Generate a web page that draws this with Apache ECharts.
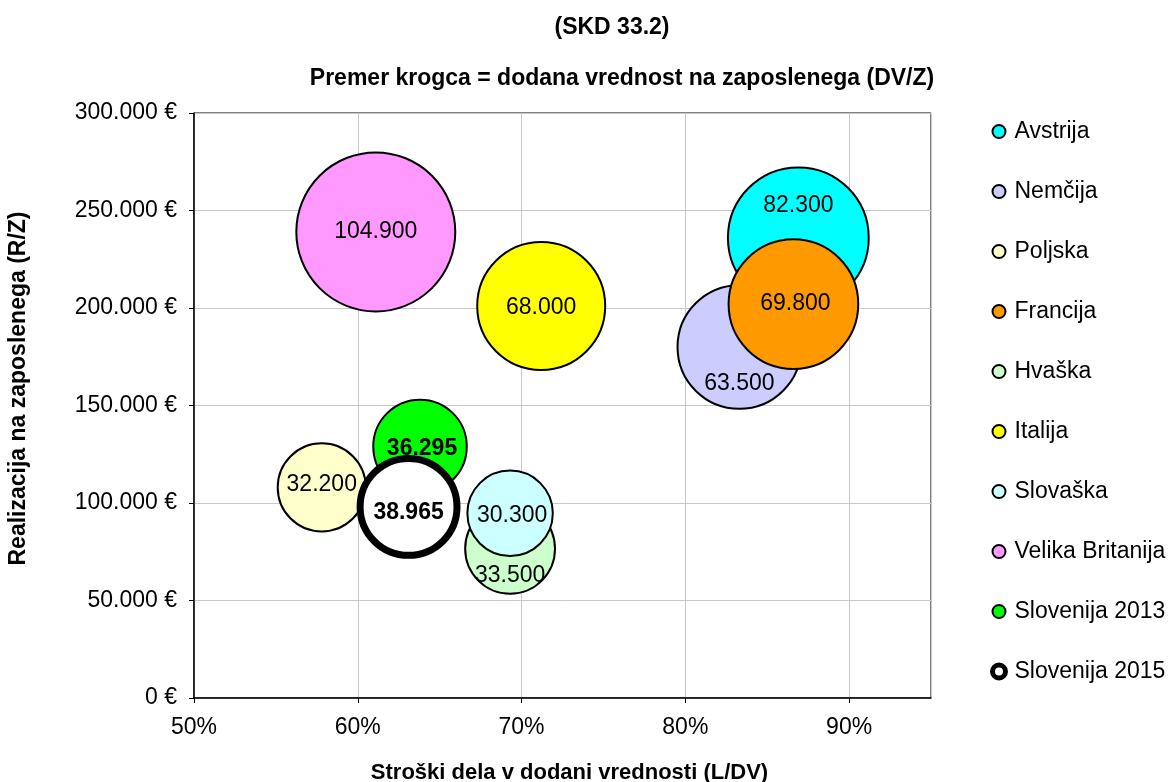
<!DOCTYPE html>
<html>
<head>
<meta charset="utf-8">
<script src="https://cdn.jsdelivr.net/npm/echarts@6/dist/echarts.min.js"></script>
<style>
html,body{margin:0;padding:0;background:#fff;}
#c{width:1168px;height:782px;}
</style>
</head>
<body>
<div id="c"></div>
<script>
// ---- data ----
var countries = ['Avstrija','Nemčija','Poljska','Francija','Hvaška','Italija','Slovaška','Velika Britanija','Slovenija 2013','Slovenija 2015'];
var laborShare = [0.869, 0.833, 0.578, 0.866, 0.693, 0.712, 0.693, 0.611, 0.638, 0.631];      // L/DV
var revenuePerEmp = [236000, 180000, 108000, 202000, 76500, 201000, 94700, 239000, 129000, 98000]; // R/Z
var valueAdded = [82300, 63500, 32200, 69800, 33500, 68000, 30300, 104900, 36295, 38965];       // DV/Z
var xTicks = [0.5, 0.6, 0.7, 0.8, 0.9];
var yTicks = [0, 50000, 100000, 150000, 200000, 250000, 300000];

// ---- styles ----
var colors = ['#00FFFF','#CCCCFF','#FFFFCC','#FF9900','#CCFFCC','#FFFF00','#CCFFFF','#FF99FF','#00FF00','#FFFFFF'];
var borderWidths = [2,2,2,2,2,2,2,2,2,7];
var labelOffsets = [[0,-32],[0,37],[0,-3],[2,0],[0,27],[0,2],[2,2],[0,0],[2,2],[0,6]];
var labelBold = [false,false,false,false,false,false,false,false,true,true];
var FONT = '"Liberation Sans", Arial, sans-serif';

function fmtThousands(v){
  return String(v).replace(/\B(?=(\d{3})+(?!\d))/g, '.');
}

var series = countries.map(function(name, i){
  return {
    name: name,
    type: 'scatter',
    data: [[laborShare[i], revenuePerEmp[i], valueAdded[i]]],
    symbol: 'circle',
    symbolSize: function(val){ return Math.sqrt(val[2]) * 0.4908; },
    itemStyle: { color: colors[i], borderColor: '#000', borderWidth: borderWidths[i], opacity: 1 },
    label: {
      show: true,
      position: 'inside',
      offset: labelOffsets[i],
      formatter: function(p){ return fmtThousands(p.value[2]); },
      color: '#000',
      fontFamily: FONT,
      fontSize: 23,
      fontWeight: labelBold[i] ? 'bold' : 'normal'
    },
    emphasis: { disabled: true },
    z: 2 + i
  };
});

var chart = echarts.init(document.getElementById('c'), null, {renderer: 'canvas'});
chart.setOption({
  animation: false,
  backgroundColor: '#fff',
  textStyle: { fontFamily: FONT },
  title: [
    { text: '(SKD 33.2)', left: 607, top: 11, textAlign: 'center',
      textStyle: { fontFamily: FONT, fontSize: 23, fontWeight: 'bold', color: '#000' } },
    { text: 'Premer krogca = dodana vrednost na zaposlenega (DV/Z)', left: 617, top: 62, textAlign: 'center',
      textStyle: { fontFamily: FONT, fontSize: 23, fontWeight: 'bold', color: '#000' } }
  ],
  legend: {
    orient: 'vertical',
    left: 985,
    top: 115,
    itemWidth: 13,
    itemHeight: 13,
    itemGap: 37,
    icon: 'circle',
    selectedMode: false,
    textStyle: { fontFamily: FONT, fontSize: 23, color: '#000', lineHeight: 22, padding: [0, 0, 0, 4] },
    data: countries.map(function(n, i){
      return { name: n, itemStyle: { color: colors[i], borderColor: '#000', borderWidth: i === 9 ? 5 : 2 } };
    })
  },
  grid: { left: 194, right: 237, top: 113, bottom: 84, show: true, borderColor: '#000', borderWidth: 1,
          containLabel: false, outerBoundsMode: 'none' },
  xAxis: {
    type: 'value',
    min: 0.5, max: 0.95, interval: 0.1,
    name: 'Stroški dela v dodani vrednosti (L/DV)',
    nameLocation: 'middle',
    nameGap: 64,
    nameTextStyle: { fontFamily: FONT, fontSize: 22, fontWeight: 'bold', color: '#000', padding: [0, 0, 0, 14] },
    axisLine: { show: true, onZero: false, lineStyle: { color: '#000', width: 1.5 } },
    axisTick: { show: true, length: 5, lineStyle: { color: '#000' } },
    axisLabel: { fontFamily: FONT, fontSize: 23, color: '#000', margin: 18, showMaxLabel: false,
      formatter: function(v){ return Math.round(v * 100) + '%'; } },
    splitLine: { show: true, lineStyle: { color: '#c8c8c8', width: 1 } }
  },
  yAxis: {
    type: 'value',
    min: 0, max: 300000, interval: 50000,
    name: 'Realizacija na zaposlenega (R/Z)',
    nameLocation: 'middle',
    nameGap: 164,
    nameTextStyle: { fontFamily: FONT, fontSize: 23, fontWeight: 'bold', color: '#000', padding: [0, 0, 0, 34] },
    axisLine: { show: true, onZero: false, lineStyle: { color: '#000', width: 1.5 } },
    axisTick: { show: true, length: 5, lineStyle: { color: '#000' } },
    axisLabel: { fontFamily: FONT, fontSize: 23, color: '#000', margin: 17,
      formatter: function(v){ return fmtThousands(v) + ' €'; } },
    splitLine: { show: true, lineStyle: { color: '#c8c8c8', width: 1 } }
  },
  series: series
});
</script>
</body>
</html>
